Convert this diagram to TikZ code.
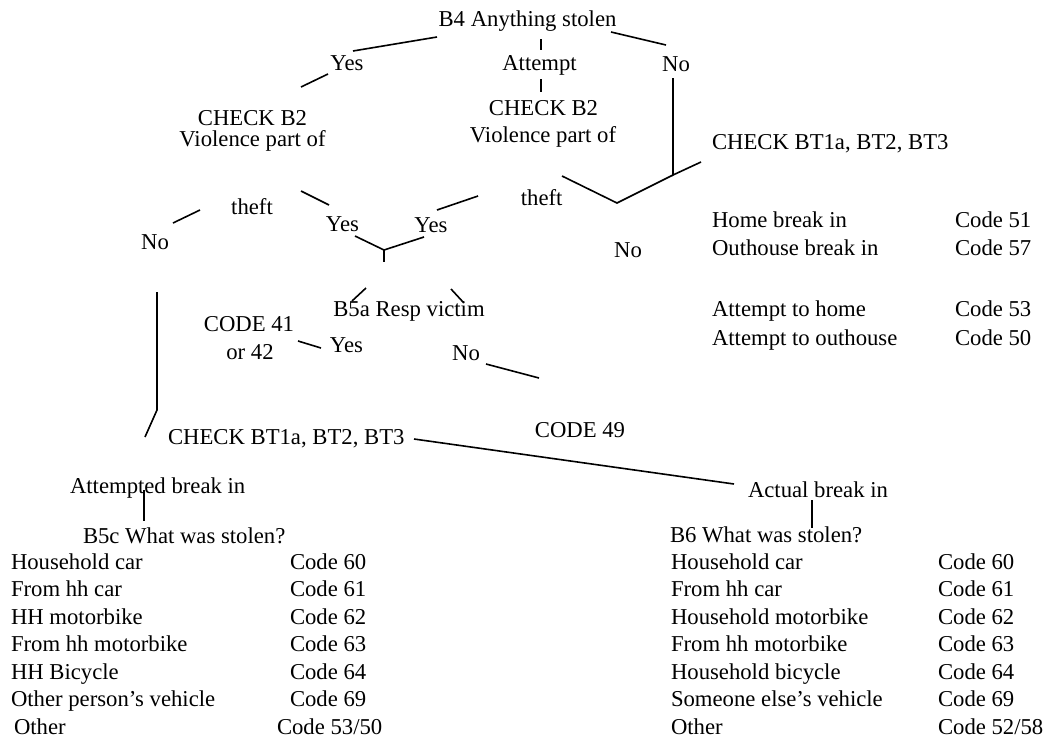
\documentclass[tikz,border=0pt]{standalone}
\usepackage{fontspec}
\setmainfont{Liberation Serif}
\begin{document}
\begin{tikzpicture}[x=1pt,y=-1pt,
  every node/.style={inner sep=0pt,outer sep=0pt,font=\fontsize{22.7}{27.4}\selectfont},
  lbl/.style={anchor=base},
  lft/.style={anchor=base west},
  link/.style={line width=1.6pt}]
\useasboundingbox (0,0) rectangle (1056,737);

% --- question and answer labels ---
\node[lbl] (b4)   at (527.5,26.7) {B4 Anything stolen};
\node[lbl] (yes1) at (347,70.5)   {Yes};
\node[lbl] (att)  at (539.5,70)   {Attempt};
\node[lbl] (no1)  at (676,71)     {No};
\node[lbl] (chkL) at (252.5,125)  {CHECK B2};
\node[lbl] (vioL) at (252.5,146)  {Violence part of};
\node[lbl] (chkM) at (543.5,115.7){CHECK B2};
\node[lbl] (vioM) at (543,142.5)  {Violence part of};
\node[lbl] (thL)  at (252,214)    {theft};
\node[lbl] (thM)  at (541.7,205)  {theft};
\node[lbl] (yesL) at (342.5,231)  {Yes};
\node[lbl] (yesR) at (431,232.7)  {Yes};
\node[lbl] (noL)  at (155,249)    {No};
\node[lbl] (noM)  at (628,257)    {No};
\node[lbl] (b5a)  at (409,316.7)  {B5a Resp victim};
\node[lbl] (c41)  at (249,331.7)  {CODE 41};
\node[lbl] (or42) at (250,359.3)  {or 42};
\node[lbl] (yes3) at (346.5,352.7){Yes};
\node[lbl] (no3)  at (466,360.7)  {No};
\node[lft] (chkB) at (168,444)    {CHECK BT1a, BT2, BT3};
\node[lbl] (c49)  at (580,437.5)  {CODE 49};
\node[lft] (act)  at (748,497)    {Actual break in};
\node[lft] (atb)  at (70,493.3)   {Attempted break in};
\node[lft] (b5c)  at (83,543.3)   {B5c What was stolen?};
\node[lft] (b6)   at (670,542.7)  {B6 What was stolen?};

% --- right-hand check list ---
\node[lft] (chkR) at (712,149.3) {CHECK BT1a, BT2, BT3};
\node[lft] (r1)  at (712,227.3) {Home break in};
\node[lft] (r1c) at (955,227.3) {Code 51};
\node[lft] (r2)  at (712,255)   {Outhouse break in};
\node[lft] (r2c) at (955,255)   {Code 57};
\node[lft] (r3)  at (712,316.7) {Attempt to home};
\node[lft] (r3c) at (955,316.7) {Code 53};
\node[lft] (r4)  at (712,345)   {Attempt to outhouse};
\node[lft] (r4c) at (955,345)   {Code 50};

% --- attempted break in: what was stolen ---
\node[lft] (a1)  at (11,569.3)  {Household car};
\node[lft] (a1c) at (290,569.3) {Code 60};
\node[lft] (a2)  at (11,596.7)  {From hh car};
\node[lft] (a2c) at (290,596.7) {Code 61};
\node[lft] (a3)  at (11,624.2)  {HH motorbike};
\node[lft] (a3c) at (290,624.2) {Code 62};
\node[lft] (a4)  at (11,651.6)  {From hh motorbike};
\node[lft] (a4c) at (290,651.6) {Code 63};
\node[lft] (a5)  at (11,679.1)  {HH Bicycle};
\node[lft] (a5c) at (290,679.1) {Code 64};
\node[lft] (a6)  at (11,706.5)  {Other person’s vehicle};
\node[lft] (a6c) at (290,706.5) {Code 69};
\node[lft] (a7)  at (14,734)    {Other};
\node[lft] (a7c) at (277,734)   {Code 53/50};

% --- actual break in: what was stolen ---
\node[lft] (s1)  at (671,569.3) {Household car};
\node[lft] (s1c) at (938,569.3) {Code 60};
\node[lft] (s2)  at (671,596.7) {From hh car};
\node[lft] (s2c) at (938,596.7) {Code 61};
\node[lft] (s3)  at (671,624.2) {Household motorbike};
\node[lft] (s3c) at (938,624.2) {Code 62};
\node[lft] (s4)  at (671,651.6) {From hh motorbike};
\node[lft] (s4c) at (938,651.6) {Code 63};
\node[lft] (s5)  at (671,679.1) {Household bicycle};
\node[lft] (s5c) at (938,679.1) {Code 64};
\node[lft] (s6)  at (671,706.5) {Someone else’s vehicle};
\node[lft] (s6c) at (938,706.5) {Code 69};
\node[lft] (s7)  at (671,734)   {Other};
\node[lft] (s7c) at (938,734)   {Code 52/58};

% --- branch end points ---
\coordinate (b4y0) at (437,37);   \coordinate (b4y1) at (353,51);
\coordinate (b4a0) at (541,39);   \coordinate (b4a1) at (541,50);
\coordinate (b4n0) at (611,32);   \coordinate (b4n1) at (666,45);
\coordinate (yc0)  at (328,74);   \coordinate (yc1)  at (301,87);
\coordinate (ac0)  at (541,79);   \coordinate (ac1)  at (541,92);
\coordinate (nv0)  at (673,78);   \coordinate (nv1)  at (673,175);
\coordinate (nr1)  at (701,162);
\coordinate (vL)   at (562,176);  \coordinate (vB)   at (617,203);
\coordinate (tn0)  at (200,210);  \coordinate (tn1)  at (173,223);
\coordinate (ty0)  at (301,191);  \coordinate (ty1)  at (329,205);
\coordinate (my0)  at (478,196);  \coordinate (my1)  at (437,210);
\coordinate (jL)   at (355,236);  \coordinate (jC)   at (384,250);
\coordinate (jR)   at (424,237);  \coordinate (jD)   at (384,262);
\coordinate (vl0)  at (366,288);  \coordinate (vl1)  at (352,301);
\coordinate (vr0)  at (451,289);  \coordinate (vr1)  at (463,302);
\coordinate (ln0)  at (157,292);  \coordinate (ln1)  at (157,410);
\coordinate (ln2)  at (145,437);
\coordinate (cy0)  at (321,348);  \coordinate (cy1)  at (298,341);
\coordinate (cn0)  at (486,364);  \coordinate (cn1)  at (539,378);
\coordinate (ba0)  at (414,439);  \coordinate (ba1)  at (734,484);
\coordinate (ab0)  at (812,500);  \coordinate (ab1)  at (812,528);
\coordinate (tb0)  at (144,490);  \coordinate (tb1)  at (144,521);

% --- connectors ---
\draw[link] (b4y0) -- (b4y1);
\draw[link] (b4a0) -- (b4a1);
\draw[link] (b4n0) -- (b4n1);
\draw[link] (yc0) -- (yc1);
\draw[link] (ac0) -- (ac1);
\draw[link] (nv0) -- (nv1) -- (nr1);
\draw[link] (vL) -- (vB) -- (nv1);
\draw[link] (tn0) -- (tn1);
\draw[link] (ty0) -- (ty1);
\draw[link] (my0) -- (my1);
\draw[link] (jL) -- (jC) -- (jR);
\draw[link] (jC) -- (jD);
\draw[link] (vl0) -- (vl1);
\draw[link] (vr0) -- (vr1);
\draw[link] (ln0) -- (ln1) -- (ln2);
\draw[link] (cy0) -- (cy1);
\draw[link] (cn0) -- (cn1);
\draw[link] (ba0) -- (ba1);
\draw[link] (ab0) -- (ab1);
\draw[link] (tb0) -- (tb1);
\end{tikzpicture}
\end{document}
